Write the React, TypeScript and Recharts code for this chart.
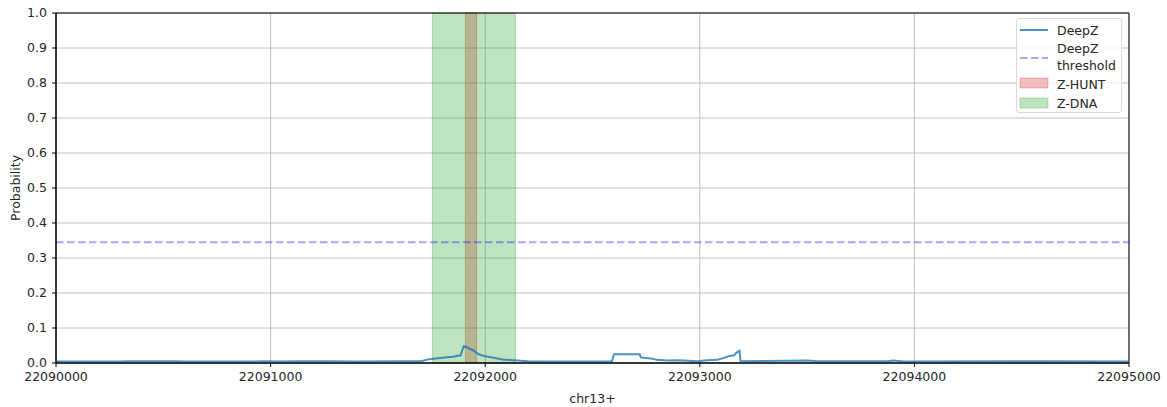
import React from 'react';
import {
  ComposedChart,
  Line,
  XAxis,
  YAxis,
  CartesianGrid,
  ReferenceArea,
  ReferenceLine,
} from 'recharts';

const xTicks = [22090000, 22091000, 22092000, 22093000, 22094000, 22095000];
const yTicks = [0, 0.1, 0.2, 0.3, 0.4, 0.5, 0.6, 0.7, 0.8, 0.9, 1.0];

const positions = [
  22090000, 22090300, 22090340, 22090550, 22090600, 22090900, 22090970, 22091030,
  22091130, 22091270, 22091400, 22091600, 22091700, 22091740, 22091800, 22091850,
  22091885, 22091900, 22091915, 22091930, 22091945, 22091955, 22091970, 22092000,
  22092040, 22092080, 22092130, 22092200, 22092300, 22092590, 22092600, 22092720,
  22092725, 22092780, 22092800, 22092850, 22092900, 22092990, 22093020, 22093080,
  22093110, 22093130, 22093160, 22093170, 22093185, 22093190, 22093300, 22093500,
  22093550, 22093880, 22093900, 22093950, 22094600, 22095000,
];
const deepz = [
  0.004, 0.004, 0.005, 0.005, 0.004, 0.004, 0.005, 0.004,
  0.005, 0.005, 0.004, 0.005, 0.005, 0.011, 0.015, 0.018,
  0.022, 0.048, 0.045, 0.040, 0.036, 0.031, 0.025, 0.019,
  0.015, 0.010, 0.008, 0.005, 0.004, 0.004, 0.025, 0.025,
  0.016, 0.012, 0.009, 0.007, 0.008, 0.005, 0.007, 0.009,
  0.014, 0.019, 0.022, 0.029, 0.035, 0.005, 0.006, 0.007,
  0.005, 0.005, 0.007, 0.004, 0.005, 0.004,
];

const threshold = 0.345;
const zhuntRange = [22091908, 22091960];
const zdnaRange = [22091754, 22092141];

const data = positions.map((p, i) => ({ pos: p, deepz: deepz[i] }));

const FONT = '"DejaVu Sans", sans-serif';
const TXT = '#262626';
const FS = 12.5;
const DASH = '7.5 3.5';

const LegendBox = () => (
  <div
    style={{
      position: 'absolute',
      left: 1016,
      top: 18,
      width: 106,
      height: 95,
      border: '1px solid #d9d9d9',
      borderRadius: 3,
      background: 'rgba(255,255,255,0.8)',
      boxSizing: 'border-box',
    }}
  >
    <svg width={106} height={95} style={{ position: 'absolute', left: -1, top: -1 }}>
      <line x1={4} x2={32} y1={12} y2={12} stroke="#1f77b4" strokeOpacity={0.8} strokeWidth={2} />
      <line x1={4} x2={32} y1={40} y2={40} stroke="#0000ff" strokeOpacity={0.35} strokeWidth={2} strokeDasharray={DASH} />
      <rect x={4} y={60} width={28} height={10} fill="#d62728" fillOpacity={0.3} stroke="#d62728" strokeOpacity={0.3} />
      <rect x={4} y={80} width={28} height={10} fill="#2ca02c" fillOpacity={0.3} stroke="#2ca02c" strokeOpacity={0.3} />
      <text x={41} y={16.5} fontSize={FS} fill={TXT} fontFamily={FONT}>DeepZ</text>
      <text x={41} y={34.5} fontSize={FS} fill={TXT} fontFamily={FONT}>DeepZ</text>
      <text x={41} y={51.5} fontSize={FS} fill={TXT} fontFamily={FONT}>threshold</text>
      <text x={41} y={70.5} fontSize={FS} fill={TXT} fontFamily={FONT}>Z-HUNT</text>
      <text x={41} y={89.5} fontSize={FS} fill={TXT} fontFamily={FONT}>Z-DNA</text>
    </svg>
  </div>
);

export default function App() {
  return (
    <div style={{ position: 'absolute', left: 0, top: 0, width: 1167, height: 407, background: '#fff' }}>
      <ComposedChart
        width={1167}
        height={407}
        data={data}
        margin={{ top: 13, right: 38, left: 0, bottom: 0 }}
      >
        <CartesianGrid stroke="#b0b0b0" strokeWidth={0.8} />
        <XAxis
          dataKey="pos"
          type="number"
          domain={[22090000, 22095000]}
          ticks={xTicks}
          allowDataOverflow
          height={44}
          tickSize={4}
          tickMargin={5}
          stroke="#000"
          tick={{ fill: TXT, fontSize: FS, fontFamily: FONT }}
          tickFormatter={(v: number) => String(v)}
          interval={0}
          label={{ value: 'chr13+', position: 'insideBottom', offset: 4, fill: TXT, fontSize: FS, fontFamily: FONT }}
        />
        <YAxis
          type="number"
          domain={[0, 1]}
          ticks={yTicks}
          allowDataOverflow
          width={56}
          tickSize={4}
          tickMargin={5}
          stroke="#000"
          tick={{ fill: TXT, fontSize: FS, fontFamily: FONT }}
          tickFormatter={(v: number) => v.toFixed(1)}
          interval={0}
          label={{
            content: () => (
              <text
                x={15}
                y={188}
                transform="rotate(-90, 15, 188)"
                textAnchor="middle"
                dominantBaseline="central"
                fill={TXT}
                fontSize={FS}
                fontFamily={FONT}
              >
                Probability
              </text>
            ),
          }}
        />
        <ReferenceArea
          x1={zhuntRange[0]}
          x2={zhuntRange[1]}
          y1={0}
          y2={1}
          fill="#d62728"
          fillOpacity={0.3}
          stroke="#d62728"
          strokeOpacity={0.3}
        />
        <ReferenceArea
          x1={zdnaRange[0]}
          x2={zdnaRange[1]}
          y1={0}
          y2={1}
          fill="#2ca02c"
          fillOpacity={0.3}
          stroke="#2ca02c"
          strokeOpacity={0.3}
        />
        <ReferenceLine
          y={threshold}
          stroke="#0000ff"
          strokeOpacity={0.35}
          strokeWidth={2}
          strokeDasharray={DASH}
        />
        <Line
          dataKey="deepz"
          type="linear"
          stroke="#1f77b4"
          strokeOpacity={0.8}
          strokeWidth={2}
          dot={false}
          isAnimationActive={false}
        />
        <ReferenceArea
          x1={22090000}
          x2={22095000}
          y1={0}
          y2={1}
          fill="none"
          stroke="#000"
          strokeWidth={1}
        />
      </ComposedChart>
      <LegendBox />
    </div>
  );
}
